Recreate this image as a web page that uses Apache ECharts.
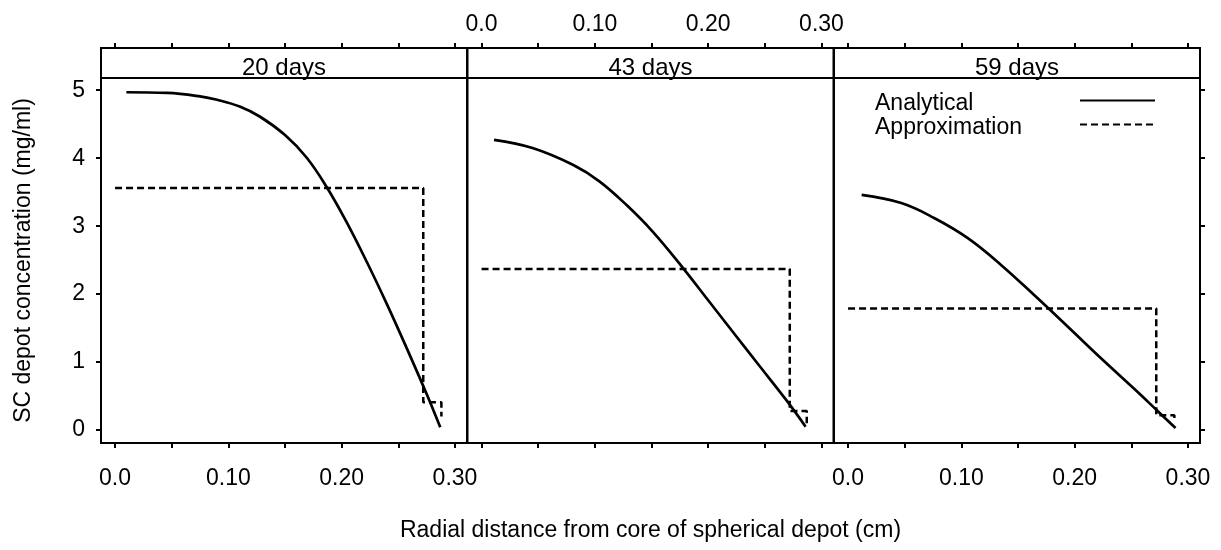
<!DOCTYPE html>
<html>
<head>
<meta charset="utf-8">
<script src="https://cdn.jsdelivr.net/npm/echarts@6/dist/echarts.min.js"></script>
<style>
  html, body { margin: 0; padding: 0; background: #fff; }
  #chart { width: 1221px; height: 550px; }
</style>
</head>
<body>
<div id="chart"></div>
<script>
// panel headers
var panelNames = ["20 days", "43 days", "59 days"];

// axis ticks / labels
var xTickValues = [0, 0.05, 0.1, 0.15, 0.2, 0.25, 0.3];
var xLabelValues = [0, 0.1, 0.2, 0.3];
var yTickValues = [0, 1, 2, 3, 4, 5];

// analytical solution
var analyticR20 = [0.010, 0.046, 0.075, 0.090, 0.110, 0.128, 0.150, 0.169, 0.187, 0.204, 0.222, 0.240, 0.257, 0.275, 0.287];
var analyticC20 = [4.97, 4.96, 4.91, 4.86, 4.76, 4.61, 4.34, 4.01, 3.57, 3.07, 2.48, 1.85, 1.22, 0.53, 0.04];
var analyticR43 = [0.011, 0.045, 0.081, 0.104, 0.128, 0.151, 0.178, 0.200, 0.222, 0.245, 0.269, 0.286];
var analyticC43 = [4.27, 4.15, 3.90, 3.66, 3.31, 2.92, 2.38, 1.91, 1.44, 0.95, 0.44, 0.05];
var analyticR59 = [0.012, 0.047, 0.076, 0.106, 0.135, 0.164, 0.194, 0.223, 0.253, 0.272, 0.289];
var analyticC59 = [3.46, 3.34, 3.12, 2.82, 2.43, 1.99, 1.52, 1.06, 0.60, 0.30, 0.03];

// step approximation (step starts at each r)
var approxR20 = [0, 0.272, 0.288];
var approxC20 = [3.56, 0.41, 0.20];
var approxR43 = [0, 0.272, 0.287];
var approxC43 = [2.37, 0.28, 0.10];
var approxR59 = [0, 0.272, 0.288];
var approxC59 = [1.79, 0.22, 0.15];

var FONT = "'Liberation Sans', Arial, Helvetica, sans-serif";
var lefts = [101, 467.5, 834];
var W = 366, TOP = 78, H = 365, STRIP = 30;

function pairs(xs, ys) {
  return xs.map(function (x, i) { return [x, ys[i]]; });
}
function fmtX(v) {
  return v === 0 ? "0.0" : v.toFixed(2);
}

var analytic = [pairs(analyticR20, analyticC20), pairs(analyticR43, analyticC43), pairs(analyticR59, analyticC59)];
var approx = [pairs(approxR20, approxC20), pairs(approxR43, approxC43), pairs(approxR59, approxC59)];

var myChart = echarts.init(document.getElementById("chart"));

var grids = [], xAxes = [], yAxes = [], series = [], graphics = [];
var tickStyle = { color: "#000", width: 2 };

for (var i = 0; i < 3; i++) {
  grids.push({
    left: lefts[i], top: TOP, width: W, height: H,
    show: true, borderColor: "#000", borderWidth: 2, backgroundColor: "transparent",
  });
  // bottom axis
  xAxes.push({
    type: "value", gridIndex: i, position: "bottom",
    min: -0.0124, max: 0.3106,
    axisLine: { show: false, onZero: false },
    axisTick: { show: true, inside: false, length: 5, customValues: xTickValues, lineStyle: tickStyle },
    axisLabel: {
      show: i !== 1, customValues: xLabelValues, formatter: fmtX, margin: 24,
      color: "#000", fontSize: 23, fontFamily: FONT,
    },
    splitLine: { show: false },
    name: i === 1 ? "Radial distance from core of spherical depot (cm)" : "",
    nameLocation: "middle", nameGap: 76,
    nameTextStyle: { color: "#000", fontSize: 23, fontFamily: FONT },
  });
  // top axis (above the strip)
  xAxes.push({
    type: "value", gridIndex: i, position: "top", offset: STRIP,
    min: -0.0124, max: 0.3106,
    axisLine: { show: false, onZero: false },
    axisTick: { show: true, inside: false, length: 5, customValues: xTickValues, lineStyle: tickStyle },
    axisLabel: {
      show: i === 1, customValues: xLabelValues, formatter: fmtX, margin: 12,
      color: "#000", fontSize: 23, fontFamily: FONT,
    },
    splitLine: { show: false },
  });
  yAxes.push({
    type: "value", gridIndex: i, position: "left",
    min: -0.19, max: 5.18,
    axisLine: { show: false, onZero: false },
    axisTick: { show: i === 0, length: 5, customValues: yTickValues, lineStyle: tickStyle },
    axisLabel: {
      show: i === 0, customValues: yTickValues, margin: 16,
      color: "#000", fontSize: 23, fontFamily: FONT,
    },
    splitLine: { show: false },
    name: i === 0 ? "SC depot concentration (mg/ml)" : "",
    nameLocation: "middle", nameGap: 66,
    nameTextStyle: { color: "#000", fontSize: 23, fontFamily: FONT },
  });
  series.push({
    name: "Analytical", type: "line", xAxisIndex: i * 2, yAxisIndex: i,
    data: analytic[i], smooth: 0.4, symbol: "none",
    lineStyle: { color: "#000", width: 2.7 }, itemStyle: { color: "#000" },
  });
  series.push({
    name: "Approximation", type: "line", xAxisIndex: i * 2, yAxisIndex: i,
    data: approx[i], step: "end", symbol: "none",
    lineStyle: { color: "#000", width: 2.5, type: [7, 4] }, itemStyle: { color: "#000" },
  });
  // strip header
  graphics.push({
    type: "rect",
    shape: { x: lefts[i], y: TOP - STRIP, width: W, height: STRIP },
    style: { fill: "#fff", stroke: "#000", lineWidth: 2 },
  });
  graphics.push({
    type: "text",
    style: {
      text: panelNames[i], x: lefts[i] + W / 2, y: TOP - STRIP / 2 + 5,
      textAlign: "center", textVerticalAlign: "middle",
      fill: "#000", font: "24px " + FONT,
    },
  });
}

// right-hand ticks on the last panel
yAxes.push({
  type: "value", gridIndex: 2, position: "right",
  min: -0.19, max: 5.18,
  axisLine: { show: false, onZero: false },
  axisTick: { show: true, length: 5, customValues: yTickValues, lineStyle: tickStyle },
  axisLabel: { show: false },
  splitLine: { show: false },
});

var option = {
  backgroundColor: "#fff",
  animation: false,
  textStyle: { fontFamily: FONT },
  grid: grids,
  xAxis: xAxes,
  yAxis: yAxes,
  legend: {
    data: ["Analytical", "Approximation"],
    orient: "vertical",
    left: 870, top: 81,
    align: "right",
    itemWidth: 75, itemHeight: 14, itemGap: -5,
    inactiveColor: "#000",
    itemStyle: { color: "transparent", borderColor: "transparent", borderWidth: 0 },
    formatter: "{a|{name}}",
    textStyle: {
      color: "#000", fontFamily: FONT, fontSize: 23,
      rich: { a: { width: 200, align: "left", padding: [6, 0, 0, 0], fontSize: 23, lineHeight: 18, color: "#000", fontFamily: FONT } },
    },
  },
  graphic: graphics,
  series: series,
};

myChart.setOption(option);
window.addEventListener("resize", function () {
  myChart.resize();
});
</script>
</body>
</html>
